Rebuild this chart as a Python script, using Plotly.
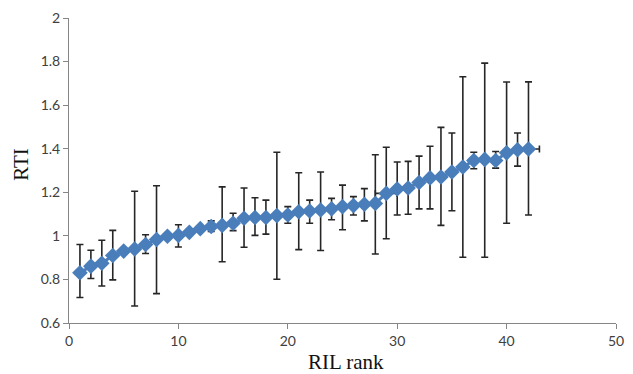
import plotly.graph_objects as go

rank = list(range(1, 43))
rti = [0.831, 0.861, 0.874, 0.910, 0.930, 0.940, 0.960, 0.983, 0.998, 1.002,
       1.016, 1.033, 1.043, 1.048, 1.058, 1.081, 1.084, 1.084, 1.093, 1.096,
       1.111, 1.114, 1.119, 1.124, 1.134, 1.139, 1.145, 1.149, 1.195, 1.215,
       1.220, 1.245, 1.266, 1.270, 1.293, 1.316, 1.346, 1.351, 1.346, 1.381,
       1.395, 1.399]
err_top = [0.960, 0.934, 0.980, 1.025, 0.930, 1.205, 1.005, 1.230, 0.998, 1.051,
           1.016, 1.033, 1.069, 1.225, 1.104, 1.220, 1.175, 1.164, 1.384, 1.134,
           1.290, 1.164, 1.293, 1.172, 1.233, 1.180, 1.217, 1.372, 1.407, 1.339,
           1.342, 1.366, 1.411, 1.498, 1.472, 1.730, 1.384, 1.793, 1.387, 1.706,
           1.472, 1.707]
err_bot = [0.717, 0.804, 0.770, 0.798, 0.930, 0.678, 0.919, 0.735, 0.998, 0.949,
           1.016, 1.033, 1.020, 0.881, 1.024, 0.948, 1.002, 1.008, 0.801, 1.058,
           0.937, 1.058, 0.933, 1.074, 1.028, 1.096, 1.069, 0.917, 0.987, 1.096,
           1.099, 1.124, 1.124, 1.048, 1.115, 0.902, 1.308, 0.902, 1.311, 1.058,
           1.320, 1.096]
x_err = [0] * 28 + [1.0] + [0] * 12 + [1.0]

x_ticks = [0, 10, 20, 30, 40, 50]
y_ticks = [0.6, 0.8, 1, 1.2, 1.4, 1.6, 1.8, 2]

plus = [t - v for t, v in zip(err_top, rti)]
minus = [v - b for v, b in zip(rti, err_bot)]

fig = go.Figure()
fig.add_trace(go.Scatter(
    x=rank, y=rti, mode="lines+markers",
    line=dict(color="#4A7EBB", width=3),
    marker=dict(symbol="diamond", size=12, color="#4A7EBB"),
    error_y=dict(type="data", symmetric=False, array=plus, arrayminus=minus,
                 color="#262626", thickness=1.6, width=3.5),
    error_x=dict(type="data", array=x_err, color="#262626", thickness=1.6, width=3.5),
    showlegend=False,
))

axis_common = dict(showgrid=False, zeroline=False, showline=True,
                   linecolor="#868686", linewidth=1, ticks="outside",
                   ticklen=5, tickcolor="#868686",
                   tickfont=dict(family="Lato, Liberation Sans, sans-serif", size=14, color="#404040"))

fig.update_layout(
    width=633, height=374,
    margin=dict(l=69, r=9, t=14, b=51),
    paper_bgcolor="white", plot_bgcolor="white",
    xaxis=dict(range=[0, 50], tickvals=x_ticks, **axis_common),
    yaxis=dict(range=[0.6, 2], tickvals=y_ticks, ticktext=[str(t) for t in y_ticks], **axis_common),
    annotations=[
        dict(text="RIL rank", xref="paper", yref="paper", x=0.506, y=-0.127,
             xanchor="center", yanchor="middle", showarrow=False,
             font=dict(family="Liberation Serif, serif", size=21, color="#111111")),
        dict(text="RTI", xref="paper", yref="paper", x=-0.087, y=0.52,
             xanchor="center", yanchor="middle", showarrow=False, textangle=-90,
             font=dict(family="Liberation Serif, serif", size=21, color="#111111")),
    ],
)

fig.write_html("out.html", config={"displayModeBar": False},
               post_script="document.body.style.margin='0';document.body.style.overflow='hidden';")
